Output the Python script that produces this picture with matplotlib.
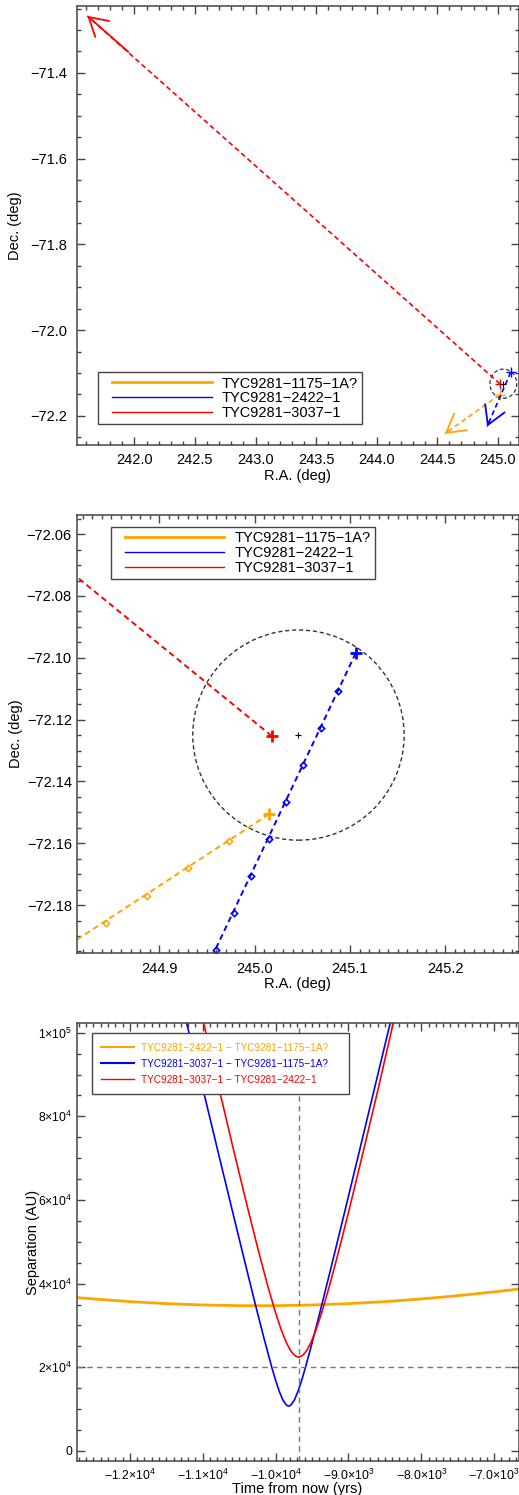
import matplotlib
matplotlib.use('Agg')
import matplotlib.pyplot as plt
from matplotlib.patches import Ellipse
from matplotlib.ticker import MultipleLocator, FuncFormatter
from matplotlib.lines import Line2D
from matplotlib.legend_handler import HandlerLine2D
import numpy as np

plt.rcParams['font.family'] = ['Liberation Sans', 'DejaVu Sans']
plt.rcParams['mathtext.fontset'] = 'custom'
plt.rcParams['mathtext.rm'] = 'Liberation Sans'
plt.rcParams['mathtext.it'] = 'Liberation Sans:italic'
plt.rcParams['mathtext.bf'] = 'Liberation Sans:bold'

# ---- data ----
star_names = ['TYC9281\u22121175\u22121A?', 'TYC9281\u22122422\u22121', 'TYC9281\u22123037\u22121']
now_ra = [245.015, 245.106, 245.018]
now_dec = [-72.1506, -72.0985, -72.1253]
tip_ra = [244.562, 244.912, 241.611]
tip_dec = [-72.242, -72.225, -71.267]
tail_ra = [244.604, 244.930, 241.950]
tail_dec = [-72.233, -72.213, -71.351]

orange_step_ra = [244.9727, 244.9307, 244.8874, 244.8444]
orange_step_dec = [-72.1593, -72.1681, -72.1771, -72.1859]
blue_step_ra = [245.0875, 245.0697, 245.0508, 245.0329, 245.0147, 244.9965, 244.9780, 244.9598]
blue_step_dec = [-72.1106, -72.1227, -72.1347, -72.1467, -72.1586, -72.1706, -72.1827, -72.1946]

circle_ra = 245.046
circle_dec = -72.125
circle_r = 0.034

pair_names = ['TYC9281\u22122422\u22121 \u2212 TYC9281\u22121175\u22121A?',
              'TYC9281\u22123037\u22121 \u2212 TYC9281\u22121175\u22121A?',
              'TYC9281\u22123037\u22121 \u2212 TYC9281\u22122422\u22121']

t_orange = [-12730, -12500, -12000, -11500, -11000, -10500, -10000, -9500,
            -9000, -8500, -8000, -7500, -7000, -6666]
sep_orange = [36670, 36330, 35690, 35210, 34890, 34720, 34720, 34890,
              35210, 35690, 36330, 37110, 38020, 38700]

t_blue = [-11230, -11000, -10800, -10600, -10400, -10250, -10150, -10050, -10000,
          -9950, -9900, -9850, -9820, -9790, -9740, -9690, -9640, -9590, -9500,
          -9400, -9250, -9050, -8850, -8650, -8420]
sep_blue = [102900, 86730, 72260, 57870, 43600, 33090, 26290, 19850, 16890,
            14250, 12160, 10910, 10700, 10940, 12230, 14350, 17000, 19970, 25760,
            32540, 43040, 57290, 71690, 86150, 102830]

t_red = [-10994, -10784, -10584, -10384, -10234, -10104, -10004, -9924, -9854,
         -9794, -9744, -9704, -9684, -9664, -9624, -9574, -9514, -9444, -9364,
         -9264, -9134, -8984, -8784, -8584, -8379]
sep_red = [102820, 87190, 72500, 58120, 47730, 39220, 33230, 29000, 25940,
           23960, 22900, 22480, 22430, 22480, 22900, 23960, 25940, 29000, 33230,
           39220, 47730, 58120, 72500, 87190, 102820]

t_closest = -9674
sep_limit = 20000

star_colors = ['orange', 'blue', 'red']
pair_colors = ['orange', 'blue', 'red']
W, H = 519, 1495
AX_COL = '#444444'


class PadLine(HandlerLine2D):
    # legend line that starts a bit to the right of the handle box
    def __init__(self, lpad=0, **kw):
        super().__init__(**kw)
        self.lpad = lpad

    def create_artists(self, legend, orig_handle, xdescent, ydescent,
                       width, height, fontsize, trans):
        arts = super().create_artists(legend, orig_handle, xdescent, ydescent,
                                      width, height, fontsize, trans)
        for a in arts:
            xd = np.asarray(a.get_xdata(), float)
            if len(xd) > 1 and xd[-1] > xd[0]:
                L = xd[-1] - xd[0]
                a.set_xdata(xd[0] + self.lpad + (xd - xd[0]) * (L - self.lpad) / L)
        return arts


def style_axes(ax, xmaj, xmin, ymaj, ymin, size=10.5, xpad=6, ypad=7):
    for s in ax.spines.values():
        s.set_color(AX_COL)
        s.set_linewidth(1.1)
    ax.xaxis.set_major_locator(MultipleLocator(xmaj))
    ax.xaxis.set_minor_locator(MultipleLocator(xmin))
    ax.yaxis.set_major_locator(MultipleLocator(ymaj))
    ax.yaxis.set_minor_locator(MultipleLocator(ymin))
    ax.tick_params(which='both', direction='in', top=True, right=True,
                   color=AX_COL, width=1.0, labelsize=size)
    ax.tick_params(axis='x', which='both', pad=xpad)
    ax.tick_params(axis='y', which='both', pad=ypad)
    ax.tick_params(which='major', length=6)
    ax.tick_params(which='minor', length=3)


def fmt(n):
    return FuncFormatter(lambda v, p: f'{v:.{n}f}'.replace('-', '\u2212'))


def px_axes(fig, x0, x1, y0, y1):
    return fig.add_axes([x0 / W, 1 - y1 / H, (x1 - x0) / W, (y1 - y0) / H])


fig = plt.figure(figsize=(W / 100, H / 100), dpi=100)
dash = (0, (3, 2))

# ---------------- panel 1 ----------------
ax1 = px_axes(fig, 77, 518.5, 6, 445)
for i in range(3):
    ax1.plot([now_ra[i], tip_ra[i]], [now_dec[i], tip_dec[i]], color=star_colors[i],
             ls=dash, lw=1.2)
    ax1.annotate('', xy=(tip_ra[i], tip_dec[i]), xytext=(tail_ra[i], tail_dec[i]),
                 arrowprops=dict(arrowstyle='->,head_length=0.65,head_width=0.38',
                                 color=star_colors[i], lw=1.3, shrinkA=0, shrinkB=0,
                                 mutation_scale=20))
    ax1.plot(now_ra[i], now_dec[i], '+', color=star_colors[i], ms=7, mew=1.0)
ax1.add_patch(Ellipse((circle_ra, circle_dec), 2 * circle_r / np.cos(np.radians(circle_dec)),
                      2 * circle_r, fill=False, ec='#333333', ls=(0, (3, 2)), lw=0.9))
ax1.plot(circle_ra, circle_dec, '+', color='black', ms=4, mew=0.7)
ax1.set_xlim(241.526, 245.171)
ax1.set_ylim(-72.268, -71.244)
style_axes(ax1, 0.5, 0.1, 0.2, 0.05, xpad=6, ypad=7)
ax1.xaxis.set_major_formatter(fmt(1))
ax1.yaxis.set_major_formatter(fmt(1))
ax1.set_xlabel('R.A. (deg)', fontsize=10.5, labelpad=1)
ax1.set_ylabel('Dec. (deg)', fontsize=10.5, labelpad=6)

handles = [Line2D([], [], color='orange', lw=2.0),
           Line2D([], [], color='blue', lw=1.0),
           Line2D([], [], color='red', lw=1.0)]
hmap = {h: PadLine(lpad=7) for h in handles}
leg_kw = dict(fontsize=10.5, frameon=True, fancybox=False, framealpha=1,
              edgecolor=AX_COL, handlelength=7.5, handletextpad=0.7,
              labelspacing=0.05, borderpad=0.3, borderaxespad=0, handler_map=hmap)
lg = ax1.legend(handles, star_names, loc='lower left', bbox_to_anchor=(0.047, 0.047), **leg_kw)
lg.get_frame().set_linewidth(1.0)

# ---------------- panel 2 ----------------
ax2 = px_axes(fig, 76.7, 518.5, 515, 953.3)
for i in range(3):
    ax2.plot([now_ra[i], tip_ra[i]], [now_dec[i], tip_dec[i]], color=star_colors[i],
             ls=dash, lw=1.4)
ax2.plot(orange_step_ra, orange_step_dec, 'D', color='orange', ms=3.2, mfc='none', mew=1.1)
ax2.plot(blue_step_ra, blue_step_dec, 'D', color='blue', ms=3.2, mfc='none', mew=1.2)
for i in range(3):
    ax2.plot(now_ra[i], now_dec[i], '+', color=star_colors[i], ms=9, mew=2.0)
ax2.add_patch(Ellipse((circle_ra, circle_dec), 2 * circle_r / np.cos(np.radians(circle_dec)),
                      2 * circle_r, fill=False, ec='#333333', ls=(0, (3, 2)), lw=1.0))
ax2.plot(circle_ra, circle_dec, '+', color='black', ms=5, mew=0.8)
ax2.set_xlim(244.8136, 245.2766)
ax2.set_ylim(-72.1956, -72.0538)
style_axes(ax2, 0.1, 0.01, 0.02, 0.005, xpad=6, ypad=3.5)
ax2.xaxis.set_major_formatter(fmt(1))
ax2.yaxis.set_major_formatter(fmt(2))
ax2.set_xlabel('R.A. (deg)', fontsize=10.5, labelpad=1)
ax2.set_ylabel('Dec. (deg)', fontsize=10.5, labelpad=3)
lg = ax2.legend(handles, star_names, loc='upper left', bbox_to_anchor=(0.077, 0.973), **leg_kw)
lg.get_frame().set_linewidth(1.0)

# ---------------- panel 3 ----------------
ax3 = px_axes(fig, 76.7, 518.5, 1022.7, 1461.3)
ax3.plot(t_orange, sep_orange, color='orange', lw=2.0)
ax3.plot(t_blue, sep_blue, color='blue', lw=1.2)
ax3.plot(t_red, sep_red, color='red', lw=1.2)
ax3.axvline(t_closest, color='#777777', ls=(0, (4, 3)), lw=1.0)
ax3.axhline(sep_limit, color='#777777', ls=(0, (4, 3)), lw=1.0)
ax3.set_xlim(-12730, -6666)
ax3.set_ylim(-2500, 102400)
style_axes(ax3, 1000, 100, 20000, 5000, size=8.8, xpad=5, ypad=3)
xt = [-12000, -11000, -10000, -9000, -8000, -7000]
xl = [r'$-1.2{\times}10^{4}$', r'$-1.1{\times}10^{4}$', r'$-1.0{\times}10^{4}$',
      r'$-9.0{\times}10^{3}$', r'$-8.0{\times}10^{3}$', r'$-7.0{\times}10^{3}$']
yt = [0, 20000, 40000, 60000, 80000, 100000]
yl = ['0', r'$2{\times}10^{4}$', r'$4{\times}10^{4}$', r'$6{\times}10^{4}$',
      r'$8{\times}10^{4}$', r'$1{\times}10^{5}$']
ax3.set_xticks(xt)
ax3.set_xticklabels(xl)
ax3.set_yticks(yt)
ax3.set_yticklabels(yl)
ax3.set_xlabel('Time from now (yrs)', fontsize=10.5, labelpad=-1)
ax3.set_ylabel('Separation (AU)', fontsize=10.5, labelpad=-1)
h3 = [Line2D([], [], color=c, lw=1.5 if c != 'red' else 1.0) for c in pair_colors]
lg3 = ax3.legend(h3, [n + '    ' for n in pair_names], loc='upper left',
                 bbox_to_anchor=(0.034, 0.976),
                 fontsize=7.2, frameon=True, fancybox=False, framealpha=1,
                 edgecolor=AX_COL, handlelength=3.3, handletextpad=0.7,
                 labelspacing=0.6, borderpad=0.95, borderaxespad=0)
lg3.get_frame().set_linewidth(1.0)
for txt, c in zip(lg3.get_texts(), pair_colors):
    txt.set_color(c)

fig.savefig('out.png', dpi=100)
